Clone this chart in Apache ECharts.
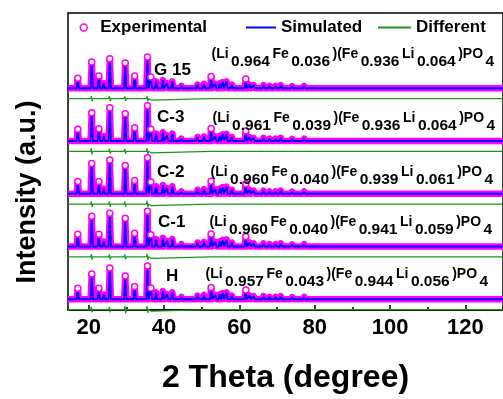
<!DOCTYPE html>
<html>
<head>
<meta charset="utf-8">
<script src="https://cdn.jsdelivr.net/npm/echarts@6/dist/echarts.min.js"></script>
<style>
html, body { margin: 0; padding: 0; background: #fff; }
#chart { width: 503px; height: 399px; }
</style>
</head>
<body>
<div id="chart"></div>
<script>
// samples, top to bottom
var samples = ['G 15', 'C-3', 'C-2', 'C-1', 'H'];
// (Li a Fe b)(Fe c Li d)PO4
var occupancy = [
    ['0.964', '0.036', '0.936', '0.064'],
    ['0.961', '0.039', '0.936', '0.064'],
    ['0.960', '0.040', '0.939', '0.061'],
    ['0.960', '0.040', '0.941', '0.059'],
    ['0.957', '0.043', '0.944', '0.056']
];

// reflection positions (2 theta) and heights
var peakPos = [17.1, 20.8, 22.7, 24.0, 25.6, 29.7, 32.2, 35.6, 36.5, 37.9, 39.7, 40.8, 42.2, 44.6, 48.9,
    50.6, 52.5, 53.6, 54.8, 55.6, 56.6, 58.0, 61.7, 62.7, 63.8, 66.4, 68.0, 69.6, 71.0, 72.4,
    74.0, 75.6, 77.2, 79.0, 82.0, 84.0, 86.5, 89.5, 93.0, 97.0, 101.0, 106.0, 111.0, 117.0, 124.0];
var hG15 = [32, 84, 39, 16, 94, 81, 39, 100, 36, 22, 26, 16, 22, 8, 12, 14, 38, 14, 16, 20, 22, 12, 30, 12, 10,
    10, 8, 8, 10, 6, 7, 6, 8, 6, 5, 6, 5, 5, 4, 5, 4, 4, 4, 4, 4];
var hC3 = [38, 90, 39, 16, 106, 87, 42, 113, 38, 24, 28, 18, 24, 8, 13, 15, 40, 15, 17, 21, 23, 13, 32, 13, 10,
    10, 8, 8, 10, 6, 7, 6, 8, 6, 5, 6, 5, 5, 4, 5, 4, 4, 4, 4, 4];
var hC2 = [39, 97, 39, 16, 108, 90, 42, 115, 38, 24, 28, 18, 24, 8, 13, 15, 40, 15, 17, 21, 23, 13, 32, 13, 10,
    10, 8, 8, 10, 6, 7, 6, 8, 6, 5, 6, 5, 5, 4, 5, 4, 4, 4, 4, 4];
var hC1 = [39, 97, 39, 16, 106, 90, 42, 113, 38, 24, 28, 18, 24, 8, 13, 15, 40, 15, 17, 21, 23, 13, 32, 13, 10,
    10, 8, 8, 10, 6, 7, 6, 8, 6, 5, 6, 5, 5, 4, 5, 4, 4, 4, 4, 4];
var hH = [35, 81, 35, 15, 100, 74, 41, 106, 36, 22, 26, 16, 22, 8, 12, 14, 38, 14, 16, 20, 22, 12, 30, 12, 10,
    10, 8, 8, 10, 6, 7, 6, 8, 6, 5, 6, 5, 5, 4, 5, 4, 4, 4, 4, 4];
var heights = [hG15, hC3, hC2, hC1, hH];

// difference curve: level and small misfit spikes
var diffLevel = -33;
var diffPos = [17.1, 20.8, 22.7, 25.6, 29.7, 32.2, 35.6, 36.5, 52.5, 61.7];
var dG15 = [5, 8, 4, 8, 7, 4, 9, 5, 4, 3];
var dC3 = [6, 10, 5, 8, 8, 5, 10, 5, 5, 4];
var dC2 = [6, 9, 5, 9, 8, 5, 10, 5, 4, 4];
var dC1 = [6, 9, 5, 8, 8, 5, 10, 5, 4, 4];
var dH = [6, 9, 5, 9, 12, 5, 11, 5, 5, 4];
var diffs = [dG15, dC3, dC2, dC1, dH];

var tickLabels = [20, 40, 60, 80, 100, 120];
var minorTicks = [30, 50, 70, 90, 110, 130];

var xMin = 14.5, xMax = 130;
var yMin = -71, yMax = 151;
var FONT = '"Liberation Sans", Arial, sans-serif';

// text placement (px) for sample names and formulas
var nameAt = [[154, 70], [157, 117], [157, 172], [158, 222], [166, 276]];
var formulaAt = [[209, 54], [210, 118], [208, 172], [207, 222], [203, 274]];

function profile(pos, h) {
    var pts = [[xMin, 0]];
    for (var i = 0; i < pos.length; i++) {
        pts.push([pos[i] - 0.3, 0], [pos[i], h[i]], [pos[i] + 0.3, 0]);
    }
    pts.push([xMax, 0]);
    return pts;
}

function diffLine(pos, d) {
    var pts = [[xMin, diffLevel]];
    for (var i = 0; i < pos.length; i++) {
        pts.push([pos[i] - 0.3, diffLevel], [pos[i] - 0.1, diffLevel + d[i]],
            [pos[i] + 0.1, diffLevel - d[i]], [pos[i] + 0.3, diffLevel]);
    }
    pts.push([xMax, diffLevel]);
    return pts;
}

var chart = echarts.init(document.getElementById('chart'));

var grids = [{
    left: 68, right: -13, top: 13, bottom: 77,
    show: true, borderColor: '#000', borderWidth: 1.5
}];
var xAxes = [{
    gridIndex: 0, type: 'value', min: xMin, max: xMax, position: 'bottom',
    name: '2 Theta (degree)', nameLocation: 'middle', nameGap: 52,
    nameTextStyle: {fontSize: 32, fontWeight: 'bold', color: '#000', fontFamily: FONT},
    axisLine: {show: true, lineStyle: {color: '#000', width: 1.5}},
    axisTick: {show: true, inside: true, length: 5, customValues: tickLabels, lineStyle: {color: '#000', width: 1.5}},
    axisLabel: {customValues: tickLabels, fontSize: 22, fontWeight: 'bold', color: '#000', fontFamily: FONT, margin: 7},
    splitLine: {show: false}
}, {
    gridIndex: 0, type: 'value', min: xMin, max: xMax, position: 'bottom',
    axisLine: {show: false},
    axisTick: {show: true, inside: true, length: 3, customValues: minorTicks, lineStyle: {color: '#000', width: 1.5}},
    axisLabel: {show: false},
    splitLine: {show: false}
}];
var yAxes = [{
    gridIndex: 0, type: 'value', min: 0, max: 1, show: false
}];
var series = [];
var graphics = [{
    type: 'text', x: 28, y: 192, rotation: Math.PI / 2, z: 100,
    style: {text: 'Intensity (a.u.)', fill: '#000', font: 'bold 27px ' + FONT, align: 'center', verticalAlign: 'middle'}
}];

samples.forEach(function (s, i) {
    // panels overlap upward so tall peaks stay inside their own grid
    grids.push({left: 68, right: -13, top: 41 + i * 52.75, height: 69.5});
    xAxes.push({gridIndex: i + 1, type: 'value', min: xMin, max: xMax, show: false});
    yAxes.push({gridIndex: i + 1, type: 'value', min: yMin, max: yMax, show: false});
    var data = profile(peakPos, heights[i]);
    series.push({
        name: 'Experimental', type: 'line', xAxisIndex: i + 2, yAxisIndex: i + 1,
        data: data, animation: false, silent: true,
        showAllSymbol: true, symbol: 'circle',
        symbolSize: function (v) { return v[1] >= 30 ? 6 : 0; },
        itemStyle: {color: '#fff', borderColor: '#ff00ff', borderWidth: 1.5},
        lineStyle: {color: '#ff00ff', width: 6.5, join: 'round'}
    }, {
        name: 'Simulated', type: 'line', xAxisIndex: i + 2, yAxisIndex: i + 1,
        data: data, animation: false, silent: true, showSymbol: false,
        itemStyle: {color: '#0000ff'},
        lineStyle: {color: '#0000ff', width: 1.8}
    }, {
        name: 'Different', type: 'line', xAxisIndex: i + 2, yAxisIndex: i + 1,
        data: diffLine(diffPos, diffs[i]), animation: false, silent: true, showSymbol: false,
        itemStyle: {color: '#1a961a'},
        lineStyle: {color: '#1a961a', width: 1.2}
    });

    graphics.push({
        type: 'text', x: nameAt[i][0], y: nameAt[i][1], z: 100,
        style: {text: s, fill: '#000', font: 'bold 17px ' + FONT, verticalAlign: 'middle'}
    });
    var o = occupancy[i];
    graphics.push({
        type: 'text', x: formulaAt[i][0], y: formulaAt[i][1], z: 100,
        style: {
            text: '{l|(Li}{n|' + o[0] + '}{l|Fe}{n|' + o[1] + '}{l|)(Fe}{n|' + o[2] +
                '}{l|Li}{n|' + o[3] + '}{l|)PO}{n|4}',
            verticalAlign: 'middle',
            rich: {
                l: {fontSize: 14, fontWeight: 'bold', fontFamily: FONT, color: '#000',
                    lineHeight: 14, padding: [0, 2.5, 7, 2.5], verticalAlign: 'top'},
                n: {fontSize: 15.5, fontWeight: 'bold', fontFamily: FONT, color: '#000',
                    lineHeight: 14, padding: [7, 0, 0, 0], verticalAlign: 'top'}
            }
        }
    });
});

var legendText = {fontSize: 17, fontWeight: 'bold', color: '#000', fontFamily: FONT};

var option = {
    backgroundColor: '#fff',
    animation: false,
    grid: grids,
    xAxis: xAxes,
    yAxis: yAxes,
    legend: [{
        left: 79.5, top: 19, padding: 0, itemWidth: 23, itemHeight: 7,
        selectedMode: false, textStyle: legendText,
        data: [{name: 'Experimental', icon: 'circle', itemStyle: {color: '#fff', borderColor: '#ff00ff', borderWidth: 1.5}}]
    }, {
        left: 246, top: 19, padding: 0, itemWidth: 30, itemHeight: 2,
        selectedMode: false, textStyle: legendText,
        data: [{name: 'Simulated', icon: 'rect', itemStyle: {color: '#0000ff'}}]
    }, {
        left: 378, top: 19, padding: 0, itemWidth: 33, itemHeight: 2,
        selectedMode: false, textStyle: legendText,
        data: [{name: 'Different', icon: 'rect', itemStyle: {color: '#1a961a'}}]
    }],
    graphic: graphics,
    series: series
};

chart.setOption(option);
</script>
</body>
</html>
